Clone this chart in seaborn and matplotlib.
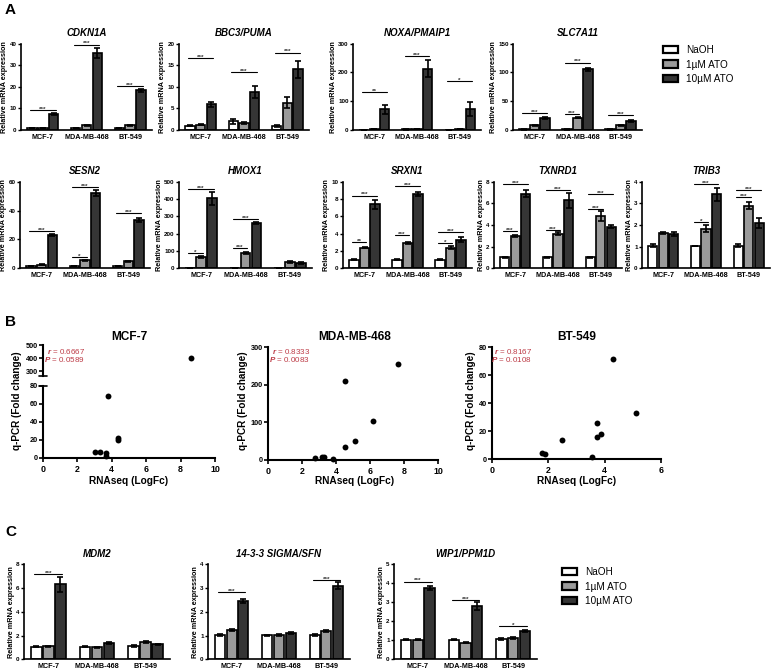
import numpy as np
import pandas as pd
import matplotlib
matplotlib.use("Agg")
import matplotlib.pyplot as plt
from matplotlib.patches import Patch
import seaborn as sns

W, H = 777, 672

sns.set_style("ticks")
plt.rcParams.update({
    "font.family": ["Liberation Sans", "DejaVu Sans"],
    "font.weight": "bold",
    "axes.labelweight": "bold",
    "axes.titleweight": "bold",
    "axes.edgecolor": "black",
    "axes.linewidth": 1.2,
    "xtick.color": "black",
    "ytick.color": "black",
    "text.color": "black",
    "axes.labelcolor": "black",
    "mathtext.fontset": "custom",
    "mathtext.it": "Liberation Sans:italic",
    "mathtext.rm": "Liberation Sans",
})

# ---- data ----
CELLS = ["MCF-7", "MDA-MB-468", "BT-549"]
TREATS = ["NaOH", "1µM ATO", "10µM ATO"]
PALETTE = ["#ffffff", "#9a9a9a", "#353535"]

# means / sem: rows = cell lines, cols = treatments
cdkn1a_mean = [[1.0, 1.0, 7.4], [1.0, 2.2, 35.5], [1.0, 2.1, 18.4]]
cdkn1a_err = [[0.05, 0.05, 0.4], [0.1, 0.2, 2.2], [0.1, 0.2, 0.6]]
cdkn1a_sig = [(0, 0, 2, 9.2, "***"), (1, 0, 2, 39.5, "***"), (2, 0, 2, 20.4, "***")]

bbc3_mean = [[1.0, 1.2, 5.9], [2.0, 1.7, 8.8], [1.0, 6.3, 14.0]]
bbc3_err = [[0.05, 0.1, 0.5], [0.5, 0.2, 1.3], [0.2, 1.3, 2.0]]
bbc3_sig = [(0, 0, 2, 16.6, "***"), (1, 0, 2, 13.4, "***"), (2, 0, 2, 17.9, "***")]

noxa_mean = [[1, 3, 72], [2, 4, 213], [1, 3, 73]]
noxa_err = [[0.5, 1, 15], [0.5, 1, 30], [0.5, 1, 23]]
noxa_sig = [(0, 0, 2, 132, "**"), (1, 0, 2, 256, "***"), (2, 0, 2, 170, "*")]

slc7a11_mean = [[1, 8, 21], [1, 21, 105], [1, 8, 16]]
slc7a11_err = [[0.3, 0.6, 1.5], [0.3, 1.0, 2.5], [0.3, 0.8, 1.5]]
slc7a11_sig = [(0, 0, 2, 29, "***"), (1, 0, 1, 27, "***"), (1, 0, 2, 117, "***"), (2, 0, 2, 26, "***")]

sesn2_mean = [[1.5, 2.5, 23], [1.5, 5.5, 52], [1.5, 5.0, 33.5]]
sesn2_err = [[0.1, 0.2, 0.7], [0.2, 0.4, 2.0], [0.1, 0.4, 1.5]]
sesn2_sig = [(0, 0, 2, 25.5, "***"), (1, 0, 1, 8, "*"), (1, 0, 2, 56, "***"), (2, 0, 2, 38, "***")]

hmox1_mean = [[3, 67, 404], [3, 90, 262], [3, 38, 30]]
hmox1_err = [[0.5, 5, 38], [0.5, 5, 7], [0.5, 6, 6]]
hmox1_sig = [(0, 0, 1, 90, "*"), (0, 0, 2, 456, "***"), (1, 0, 1, 115, "***"), (1, 0, 2, 283, "***")]

srxn1_mean = [[1.0, 2.4, 7.4], [1.0, 2.9, 8.6], [1.0, 2.4, 3.3]]
srxn1_err = [[0.05, 0.1, 0.5], [0.05, 0.1, 0.25], [0.05, 0.2, 0.3]]
srxn1_sig = [(0, 0, 1, 3.0, "**"), (0, 0, 2, 8.4, "***"), (1, 0, 1, 3.8, "***"), (1, 0, 2, 9.5, "***"),
             (2, 0, 1, 2.9, "*"), (2, 0, 2, 4.2, "***")]

txnrd1_mean = [[1.0, 3.0, 6.9], [1.0, 3.2, 6.3], [1.0, 4.8, 3.85]]
txnrd1_err = [[0.03, 0.1, 0.3], [0.03, 0.15, 0.7], [0.03, 0.45, 0.15]]
txnrd1_sig = [(0, 0, 1, 3.4, "***"), (0, 0, 2, 7.75, "***"), (1, 0, 1, 3.5, "***"), (1, 0, 2, 7.2, "***"),
              (2, 0, 1, 5.5, "***"), (2, 0, 2, 6.9, "***")]

trib3_mean = [[1.05, 1.62, 1.57], [1.03, 1.83, 3.42], [1.05, 2.9, 2.1]]
trib3_err = [[0.05, 0.05, 0.1], [0.02, 0.15, 0.3], [0.05, 0.18, 0.22]]
trib3_sig = [(1, 0, 1, 2.15, "*"), (1, 0, 2, 3.88, "***"), (2, 0, 1, 3.3, "***"), (2, 0, 2, 3.6, "***")]

mdm2_mean = [[1.05, 1.1, 6.3], [1.05, 1.0, 1.38], [1.1, 1.45, 1.25]]
mdm2_err = [[0.03, 0.05, 0.6], [0.03, 0.03, 0.05], [0.1, 0.08, 0.08]]
mdm2_sig = [(0, 0, 2, 7.2, "***")]

sfn_mean = [[1.02, 1.22, 2.45], [1.02, 1.03, 1.1], [1.02, 1.2, 3.1]]
sfn_err = [[0.03, 0.04, 0.1], [0.02, 0.04, 0.04], [0.05, 0.05, 0.15]]
sfn_sig = [(0, 0, 2, 2.85, "***"), (2, 0, 2, 3.34, "***")]

wip1_mean = [[1.03, 1.03, 3.75], [1.03, 0.87, 2.8], [1.07, 1.12, 1.48]]
wip1_err = [[0.03, 0.03, 0.1], [0.02, 0.03, 0.2], [0.05, 0.03, 0.05]]
wip1_sig = [(0, 0, 2, 4.09, "***"), (1, 0, 2, 3.12, "***"), (2, 0, 2, 1.77, "*")]

# scatter: RNAseq logFC vs q-PCR fold change
mcf7_rnaseq = [3.0, 3.3, 3.65, 3.65, 3.8, 4.37, 4.37, 8.58]
mcf7_qpcr = [6.6, 6.8, 5.5, 1.8, 69.4, 21.7, 19.6, 400]
mda_rnaseq = [2.75, 3.2, 3.27, 3.82, 4.55, 4.55, 5.1, 6.2, 7.65]
mda_qpcr = [6, 9, 8, 3, 35, 210, 51, 104, 256]
bt_rnaseq = [1.77, 1.89, 2.5, 3.55, 3.73, 3.73, 3.87, 4.31, 5.12]
bt_qpcr = [4, 3.3, 13.5, 1.7, 25.9, 15.4, 17.8, 71.5, 33.2]

RED = "#bd3b46"

fig = plt.figure(figsize=(W / 100, H / 100), dpi=100)


def add_ax(l, t, r, b):
    return fig.add_axes([l / W, 1 - b / H, (r - l) / W, (b - t) / H])


def bar_panel(rect, title, means, errs, sigs, ymax, ystep):
    ax = add_ax(*rect)
    rows = [(c, t, means[i][j]) for i, c in enumerate(CELLS) for j, t in enumerate(TREATS)]
    df = pd.DataFrame(rows, columns=["cell", "treat", "value"])
    sns.barplot(data=df, x="cell", y="value", hue="treat", order=CELLS, hue_order=TREATS,
                palette=PALETTE, saturation=1, edgecolor="black", linewidth=1.2,
                width=0.74, gap=0.12, errorbar=None, legend=False, ax=ax)
    bars = {}
    for j, cont in enumerate(ax.containers):
        for b in cont:
            i = int(round(b.get_x() + b.get_width() / 2))
            bars[(i, j)] = b
    for (i, j), b in bars.items():
        xc = b.get_x() + b.get_width() / 2
        ax.errorbar(xc, b.get_height(), yerr=errs[i][j], fmt="none", ecolor="black",
                    elinewidth=1.2, capsize=2.2, capthick=1.2, zorder=5)
    for i, a, c, lvl, lab in sigs:
        lb, rb = bars[(i, a)], bars[(i, c)]
        x0 = lb.get_x() + 0.3 * lb.get_width()
        x1 = rb.get_x() + 0.7 * rb.get_width()
        ax.plot([x0, x1], [lvl, lvl], color="black", lw=0.8, clip_on=False)
        ax.annotate(lab, ((x0 + x1) / 2, lvl), xytext=(0, -0.6), textcoords="offset points",
                    ha="center", va="baseline", fontsize=4.6, color="#333333")
    ax.set_xlim(-0.5, 2.5)
    ax.set_ylim(0, ymax)
    ax.set_yticks(np.arange(0, ymax + 1e-9, ystep))
    ax.tick_params(axis="x", length=0, labelsize=5.2, pad=3)
    ax.tick_params(axis="y", length=2.3, width=1, labelsize=4.5, pad=0.8)
    ax.set_xlabel("")
    ax.set_ylabel("Relative mRNA expression", fontsize=5.2, labelpad=1)
    ax.set_title(title, fontsize=7, fontstyle="italic", pad=5.5)
    sns.despine(ax=ax)
    return ax


# ---- panel A ----
bar_panel((21, 43.5, 152, 130), "CDKN1A", cdkn1a_mean, cdkn1a_err, cdkn1a_sig, 40, 10)
bar_panel((179, 43.5, 309, 130), "BBC3/PUMA", bbc3_mean, bbc3_err, bbc3_sig, 20, 5)
bar_panel((353, 43.5, 481, 130), "NOXA/PMAIP1", noxa_mean, noxa_err, noxa_sig, 300, 100)
bar_panel((513, 43.5, 642, 130), "SLC7A11", slc7a11_mean, slc7a11_err, slc7a11_sig, 150, 50)

bar_panel((20, 181.7, 150, 268.3), "SESN2", sesn2_mean, sesn2_err, sesn2_sig, 60, 20)
bar_panel((179, 181.7, 312, 268.3), "HMOX1", hmox1_mean, hmox1_err, hmox1_sig, 500, 100)
bar_panel((343, 181.7, 472, 268.3), "SRXN1", srxn1_mean, srxn1_err, srxn1_sig, 10, 2)
bar_panel((494, 181.7, 622, 268.3), "TXNRD1", txnrd1_mean, txnrd1_err, txnrd1_sig, 8, 2)
bar_panel((642, 181.7, 770, 268.3), "TRIB3", trib3_mean, trib3_err, trib3_sig, 4, 1)

# ---- panel C ----
bar_panel((24, 564.3, 170, 659.3), "MDM2", mdm2_mean, mdm2_err, mdm2_sig, 8, 2)
bar_panel((208, 564.3, 350, 659.3), "14-3-3 SIGMA/SFN", sfn_mean, sfn_err, sfn_sig, 4, 1)
bar_panel((394, 564.3, 537, 659.3), "WIP1/PPM1D", wip1_mean, wip1_err, wip1_sig, 5, 1)

handles = [Patch(facecolor=c, edgecolor="black", linewidth=1.6, label=t) for c, t in zip(PALETTE, TREATS)]
for lx, ly in [(658, 40), (557, 562)]:
    fig.legend(handles=handles, loc="upper left", bbox_to_anchor=(lx / W, 1 - ly / H),
               frameon=False, prop={"size": 7.2, "weight": "normal"}, handlelength=1.5,
               handleheight=0.75, handletextpad=0.8, labelspacing=0.45, borderpad=0)


# ---- panel B ----
def style_scatter(ax):
    for s in ax.spines.values():
        s.set_linewidth(1.5)
    ax.tick_params(axis="both", length=3, width=1.2)
    ax.tick_params(axis="x", labelsize=6.4, pad=2)
    ax.tick_params(axis="y", labelsize=5.3, pad=0.8)
    ax.set_xlabel("")
    ax.set_ylabel("")
    sns.despine(ax=ax)


def dots(ax, x, y):
    sns.scatterplot(x=x, y=y, ax=ax, color="black", s=18, linewidth=0, legend=False,
                    zorder=3, clip_on=False)


mcf = pd.DataFrame({"x": mcf7_rnaseq, "y": mcf7_qpcr})
low = mcf[mcf["y"] <= 80]
high = mcf[mcf["y"] > 80]

ax_lo = add_ax(43, 386, 215, 458)
dots(ax_lo, low["x"].tolist(), low["y"].tolist())
ax_lo.set_xlim(0, 10)
ax_lo.set_ylim(0, 80)
ax_lo.set_xticks(np.arange(0, 11, 2))
ax_lo.set_yticks(np.arange(0, 81, 20))
style_scatter(ax_lo)

ax_hi = add_ax(43, 345, 215, 376)
dots(ax_hi, high["x"].tolist(), high["y"].tolist())
ax_hi.set_xlim(0, 10)
ax_hi.set_ylim(262, 500)
ax_hi.set_yticks([300, 400, 500])
style_scatter(ax_hi)
ax_hi.spines["bottom"].set_visible(False)
ax_hi.set_xticks([])
# axis break marks
for a, yy in [(ax_hi, 0.0), (ax_lo, 1.0)]:
    a.plot([-0.022, 0.022], [yy, yy], transform=a.transAxes, color="black", lw=1.2, clip_on=False)

ax_mda = add_ax(268, 347, 438, 460)
dots(ax_mda, mda_rnaseq, mda_qpcr)
ax_mda.set_xlim(0, 10)
ax_mda.set_ylim(0, 300)
ax_mda.set_xticks(np.arange(0, 11, 2))
ax_mda.set_yticks([0, 100, 200, 300])
style_scatter(ax_mda)

ax_bt = add_ax(492, 347, 661, 459)
dots(ax_bt, bt_rnaseq, bt_qpcr)
ax_bt.set_xlim(0, 6)
ax_bt.set_ylim(0, 80)
ax_bt.set_xticks([0, 2, 4, 6])
ax_bt.set_yticks(np.arange(0, 81, 20))
style_scatter(ax_bt)

stats = [("MCF-7", 129, 85, "0.6667", "0.0589", 17),
         ("MDA-MB-468", 355, 310, "0.8333", "0.0083", 243),
         ("BT-549", 577, 532, "0.8167", "0.0108", 471)]
for name, cx, rx, rval, pval, ylx in stats:
    fig.text(cx / W, 1 - 337 / H, name, ha="center", va="center", fontsize=8.6)
    fig.text(rx / W, 1 - 352 / H, r"$\it{r}$ = " + rval, ha="right", va="center",
             fontsize=5.8, color=RED, fontweight="normal")
    fig.text(rx / W, 1 - 359.5 / H, r"$\it{P}$ = " + pval, ha="right", va="center",
             fontsize=5.8, color=RED, fontweight="normal")
    fig.text(ylx / W, 1 - 401 / H, "q-PCR (Fold change)", rotation=90, ha="center",
             va="center", fontsize=7.2)
    fig.text(cx / W, 1 - 481 / H, "RNAseq (LogFc)", ha="center", va="center", fontsize=7.3)

# panel letters
for letter, yy in [("A", 10), ("B", 322), ("C", 532)]:
    fig.text(5 / W, 1 - yy / H, letter, ha="left", va="center", fontsize=11)

fig.savefig("out.png", dpi=100)
